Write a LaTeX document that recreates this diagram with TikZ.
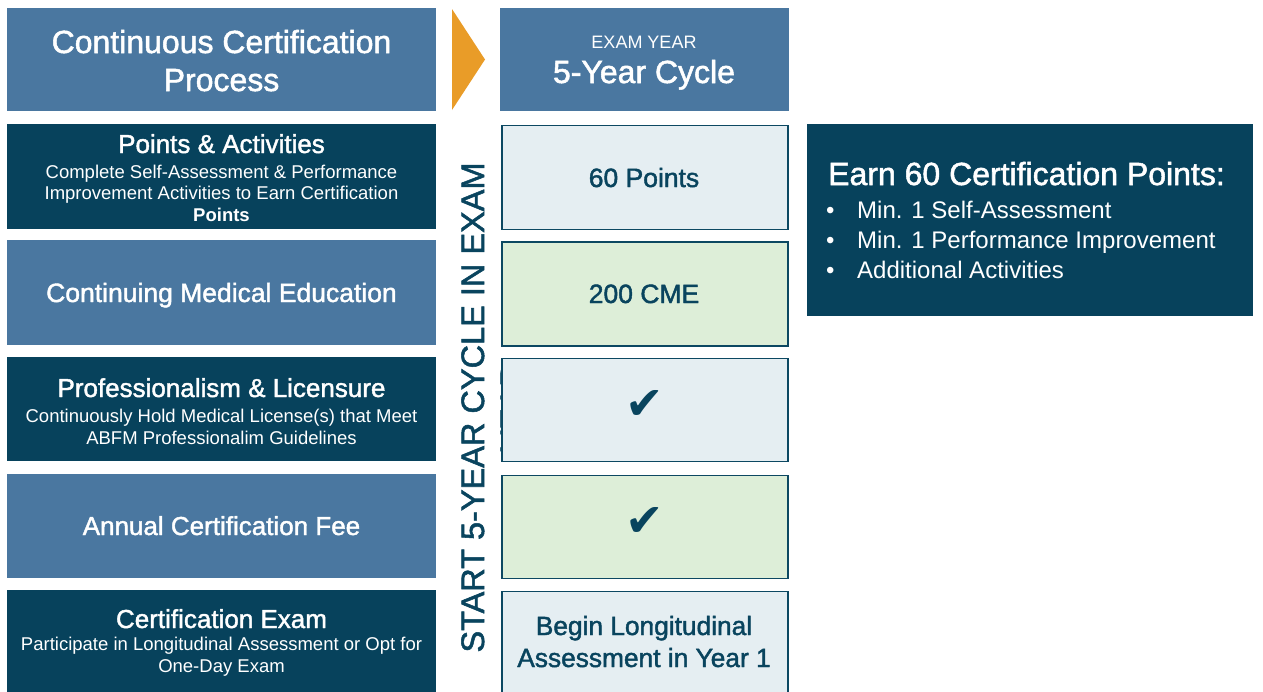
\documentclass[tikz,border=0pt]{standalone}
\usepackage{fontspec}
\setmainfont{Liberation Sans}
\newfontfamily\medfont[FakeBold=1.6]{Liberation Sans}
\newfontfamily\symfont{DejaVu Sans}
\definecolor{midblue}{RGB}{74,119,160}
\definecolor{darkteal}{RGB}{7,66,92}
\definecolor{orng}{RGB}{233,156,40}
\definecolor{lightbox}{RGB}{229,238,242}
\definecolor{greenbox}{RGB}{221,238,216}
\definecolor{boxline}{RGB}{12,72,98}
\definecolor{boxtext}{RGB}{9,68,94}
\newcommand{\fs}[1]{\fontsize{#1}{#1}\selectfont}
\begin{document}
\begin{tikzpicture}[x=1pt,y=-1pt,
  leftbox/.style={inner sep=0pt, anchor=north west, minimum width=429pt, minimum height=#1},
  midbox/.style={draw=boxline, line width=1.8pt, inner sep=0pt, anchor=north west, minimum width=286pt, minimum height=#1},
  wtxt/.style={text=white, inner sep=0pt, anchor=base},
  dtxt/.style={text=boxtext, inner sep=0pt, anchor=base},
  chk/.style={text=boxtext, inner sep=0pt, font=\symfont\fs{46}}
]
\useasboundingbox (0,0) rectangle (1263,691);
\fill[white] (0,0) rectangle (1263,691);

% left column
\node[leftbox=103pt, fill=midblue] (L0) at (7,8) {};
\node[leftbox=105pt, fill=darkteal] (L1) at (7,124) {};
\node[leftbox=105pt, fill=midblue] (L2) at (7,240) {};
\node[leftbox=104pt, fill=darkteal] (L3) at (7,357) {};
\node[leftbox=104pt, fill=midblue] (L4) at (7,474) {};
\node[leftbox=102pt, fill=darkteal] (L5) at (7,590) {};

\node[wtxt, font=\medfont\fs{32}] (t0a) at (221.5,53) {Continuous Certification};
\node[wtxt, font=\medfont\fs{32}] (t0b) at (221.5,91) {Process};

\node[wtxt, font=\medfont\fs{26}] (t1a) at (221.5,153) {Points \& Activities};
\node[wtxt, font=\fs{18.5}] (t1b) at (221.5,178) {Complete Self-Assessment \& Performance};
\node[wtxt, font=\fs{18.5}] (t1c) at (221.5,199.5) {Improvement Activities to Earn Certification};
\node[wtxt, font=\bfseries\fs{18.5}] (t1d) at (221.5,221) {Points};

\node[wtxt, font=\medfont\fs{26.5}] (t2a) at (221.5,302) {Continuing Medical Education};

\node[wtxt, font=\medfont\fs{26}] (t3a) at (221.5,397) {Professionalism \& Licensure};
\node[wtxt, font=\fs{18.5}] (t3b) at (221.5,422) {Continuously Hold Medical License(s) that Meet};
\node[wtxt, font=\fs{18.5}] (t3c) at (221.5,444) {ABFM Professionalim Guidelines};

\node[wtxt, font=\medfont\fs{26}] (t4a) at (221.5,535) {Annual Certification Fee};

\node[wtxt, font=\medfont\fs{26}] (t5a) at (221.5,628) {Certification Exam};
\node[wtxt, font=\fs{18.5}] (t5b) at (221.5,650) {Participate in Longitudinal Assessment or Opt for};
\node[wtxt, font=\fs{18.5}] (t5c) at (221.5,672) {One-Day Exam};

% arrow
\fill[orng] (452,9) -- (485,59.5) -- (452,110) -- cycle;

% vertical text (second line partly hidden behind the boxes)
\node[dtxt, rotate=90, font=\medfont\fs{32.5}] (vt2) at (523,407.5) {YEAR};
\node[dtxt, rotate=90, font=\medfont\fs{32.5}] (vt1) at (484,407.5) {START 5-YEAR CYCLE IN EXAM};

% middle column
\node[leftbox=103pt, minimum width=289pt, fill=midblue] (M0) at (500,8) {};
\node[wtxt, font=\fs{18}] (m0a) at (644,48.5) {EXAM YEAR};
\node[wtxt, font=\medfont\fs{32}] (m0b) at (644,83) {5-Year Cycle};

\node[midbox=104pt, fill=lightbox] (M1) at (501,124.5) {};
\node[midbox=104pt, fill=greenbox] (M2) at (501,241) {};
\node[midbox=103pt, fill=lightbox] (M3) at (501,357.5) {};
\node[midbox=103pt, fill=greenbox] (M4) at (501,474.5) {};
\node[midbox=103pt, fill=lightbox] (M5) at (501,590.5) {};

\node[dtxt, font=\medfont\fs{26.5}] (m1) at (644,187) {60 Points};
\node[dtxt, font=\medfont\fs{26.5}] (m2) at (644,303) {200 CME};
\node[chk] (m3) at (645,405) {✔};
\node[chk] (m4) at (645,522) {✔};
\node[dtxt, font=\medfont\fs{26.3}] (m5a) at (644,635) {Begin Longitudinal};
\node[dtxt, font=\medfont\fs{26.3}] (m5b) at (644,667) {Assessment in Year 1};

% right box
\node[leftbox=192pt, minimum width=446pt, fill=darkteal] (R) at (807,124) {};
\node[text=white, inner sep=0pt, anchor=base west, font=\medfont\fs{32}] (r0) at (828,185) {Earn 60 Certification Points:};
\node[text=white, inner sep=0pt, anchor=base west, font=\fs{24}] (r1) at (826,218) {•};
\node[text=white, inner sep=0pt, anchor=base west, font=\fs{24}] (r1t) at (857,218) {Min. 1 Self-Assessment};
\node[text=white, inner sep=0pt, anchor=base west, font=\fs{24}] (r2) at (826,248) {•};
\node[text=white, inner sep=0pt, anchor=base west, font=\fs{24}] (r2t) at (857,248) {Min. 1 Performance Improvement};
\node[text=white, inner sep=0pt, anchor=base west, font=\fs{24}] (r3) at (826,278) {•};
\node[text=white, inner sep=0pt, anchor=base west, font=\fs{24}] (r3t) at (857,278) {Additional Activities};
\end{tikzpicture}
\end{document}
